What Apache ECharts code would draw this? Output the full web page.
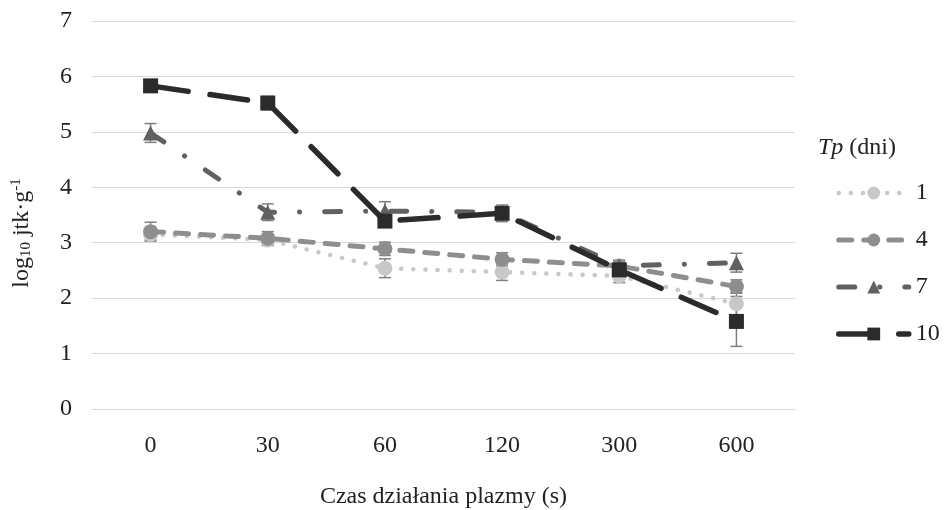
<!DOCTYPE html>
<html>
<head>
<meta charset="utf-8">
<script src="https://cdn.jsdelivr.net/npm/echarts@6/dist/echarts.min.js"></script>
<style>
  html, body { margin: 0; padding: 0; background: #fff; }
  #chart { width: 945px; height: 510px; }
</style>
</head>
<body>
<div id="chart"></div>
<script>
// Plasma exposure time (s)
const categories = ['0', '30', '60', '120', '300', '600'];

// log10 cfu/g per storage day Tp
const tp1 = [3.15, 3.05, 2.54, 2.47, 2.40, 1.90];
const tp4 = [3.20, 3.08, 2.89, 2.70, 2.58, 2.21];
const tp7 = [4.98, 3.55, 3.57, 3.55, 2.58, 2.64];
const tp10 = [5.83, 5.52, 3.39, 3.53, 2.51, 1.58];

// standard deviations
const err1 = [0.10, 0.10, 0.17, 0.15, 0.12, 0.20];
const err4 = [0.17, 0.12, 0.12, 0.12, 0.10, 0.12];
const err7 = [0.17, 0.15, 0.17, 0.10, 0.10, 0.17];
const err10 = [0.08, 0.12, 0.10, 0.15, 0.10, 0.45];

const seriesNames = ['1', '4', '7', '10'];
const yTicks = [0, 1, 2, 3, 4, 5, 6, 7];

const FONT = 'Liberation Serif';
const TEXT_COLOR = '#222';
const GRID_COLOR = '#d9d9d9';
const ERR_COLOR = '#7f7f7f';

// per-series look: colour, line width, dash pattern, marker
const looks = [
  { color: '#c8c8c8', width: 4.5, dash: [0.1, 12], symbol: 'circle' },
  { color: '#8e8e8e', width: 5, dash: [13, 12], symbol: 'circle' },
  { color: '#616161', width: 5, dash: [16, 25, 0.1, 25], symbol: 'triangle' },
  { color: '#2b2b2b', width: 5.5, dash: [38, 22], symbol: 'rect' }
];

function errData(vals, errs) {
  return vals.map((v, i) => [i, v - errs[i], v + errs[i]]);
}

function errorSeries(vals, errs, z) {
  return {
    type: 'custom',
    z: z,
    silent: true,
    data: errData(vals, errs),
    renderItem: function (params, api) {
      const lo = api.coord([api.value(0), api.value(1)]);
      const hi = api.coord([api.value(0), api.value(2)]);
      const half = 6;
      const style = { stroke: ERR_COLOR, lineWidth: 1.5 };
      return {
        type: 'group',
        children: [
          { type: 'line', shape: { x1: lo[0], y1: lo[1], x2: hi[0], y2: hi[1] }, style: style },
          { type: 'line', shape: { x1: lo[0] - half, y1: lo[1], x2: lo[0] + half, y2: lo[1] }, style: style },
          { type: 'line', shape: { x1: hi[0] - half, y1: hi[1], x2: hi[0] + half, y2: hi[1] }, style: style }
        ]
      };
    }
  };
}

function lineSeries(name, data, look, z) {
  return {
    name: name,
    type: 'line',
    data: data,
    z: z,
    symbol: look.symbol,
    symbolSize: 15,
    showAllSymbol: true,
    lineStyle: { color: look.color, width: look.width, type: look.dash, cap: 'round', join: 'round' },
    itemStyle: { color: look.color, borderWidth: 0 },
    emphasis: { disabled: true },
    animation: false
  };
}

const chart = echarts.init(document.getElementById('chart'), null, { renderer: 'canvas' });

chart.setOption({
  backgroundColor: '#ffffff',
  animation: false,
  textStyle: { fontFamily: FONT, color: TEXT_COLOR },
  title: {
    text: '{i|Tp} (dni)',
    left: 818,
    top: 136,
    padding: 0,
    textStyle: {
      fontFamily: FONT,
      fontSize: 24,
      fontWeight: 'normal',
      color: TEXT_COLOR,
      rich: {
        i: { fontFamily: FONT, fontSize: 24, fontStyle: 'italic', color: TEXT_COLOR }
      }
    }
  },
  legend: {
    orient: 'vertical',
    left: 836,
    top: 181,
    padding: 0,
    itemWidth: 70,
    itemHeight: 16,
    itemGap: 23,
    data: seriesNames.map((n, i) => ({
      name: n,
      lineStyle: { width: looks[i].width, type: looks[i].dash, cap: 'round', color: looks[i].color },
      itemStyle: { color: looks[i].color }
    })),
    textStyle: { fontFamily: FONT, fontSize: 24, color: TEXT_COLOR, padding: [0, 0, 0, 2] },
    selectedMode: false
  },
  grid: { left: 92, right: 150, top: 21, bottom: 101, containLabel: false, outerBoundsMode: 'none' },
  xAxis: {
    type: 'category',
    data: categories,
    boundaryGap: true,
    name: 'Czas działania plazmy (s)',
    nameLocation: 'middle',
    nameGap: 76,
    nameTextStyle: { fontFamily: FONT, fontSize: 24, color: TEXT_COLOR },
    axisLine: { show: true, lineStyle: { color: GRID_COLOR, width: 1 } },
    axisTick: { show: false },
    axisLabel: { fontFamily: FONT, fontSize: 24, color: TEXT_COLOR, margin: 25 },
    splitLine: { show: false }
  },
  yAxis: {
    type: 'value',
    min: yTicks[0],
    max: yTicks[yTicks.length - 1],
    interval: 1,
    name: 'log{sub|10} jtk·g{sup|-1}',
    nameLocation: 'middle',
    nameRotate: 90,
    nameGap: 58,
    nameTextStyle: {
      fontFamily: FONT,
      fontSize: 24,
      color: TEXT_COLOR,
      padding: [0, 36, 0, 0],
      rich: {
        sub: { fontFamily: FONT, fontSize: 15, color: TEXT_COLOR, verticalAlign: 'bottom', padding: [10, 0, 0, 0] },
        sup: { fontFamily: FONT, fontSize: 15, color: TEXT_COLOR, verticalAlign: 'top', padding: [0, 0, 10, 0] }
      }
    },
    axisLine: { show: false },
    axisTick: { show: false },
    axisLabel: { fontFamily: FONT, fontSize: 24, color: TEXT_COLOR, margin: 20 },
    splitLine: { show: true, lineStyle: { color: GRID_COLOR, width: 1 } }
  },
  series: [
    errorSeries(tp1, err1, 1),
    errorSeries(tp4, err4, 1),
    errorSeries(tp7, err7, 1),
    errorSeries(tp10, err10, 1),
    lineSeries(seriesNames[0], tp1, looks[0], 2),
    lineSeries(seriesNames[1], tp4, looks[1], 3),
    lineSeries(seriesNames[2], tp7, looks[2], 4),
    lineSeries(seriesNames[3], tp10, looks[3], 5)
  ]
});
</script>
</body>
</html>
